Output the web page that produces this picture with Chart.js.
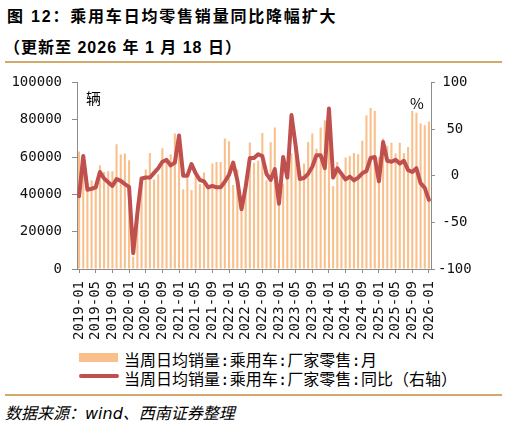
<!DOCTYPE html>
<html>
<head>
<meta charset="utf-8">
<script src="https://cdn.jsdelivr.net/npm/chart.js@4.4.1/dist/chart.umd.min.js"></script>
<style>
  html, body { margin: 0; padding: 0; background: #fff; }
  #wrap { position: relative; width: 508px; height: 424px; overflow: hidden; font-family: "Noto Sans CJK SC", sans-serif; color: #000; }
  .abs { position: absolute; white-space: nowrap; }
  #t1 { left: 7px; top: 3px; font-size: 16px; font-weight: bold; letter-spacing: 1.8px; font-family: "Liberation Sans", "Noto Sans CJK SC", sans-serif; }
  #t2 { left: 4px; top: 34px; font-size: 16px; font-weight: bold; letter-spacing: 1px; font-family: "Liberation Sans", "Noto Sans CJK SC", sans-serif; }
  .rule { position: absolute; left: 5px; width: 497px; height: 2px; background: #D2A96B; }
  #chart { position: absolute; left: 0; top: 64px; }
  .unit { font-size: 15px; }
  .leg { font-size: 16px; font-family: "DejaVu Sans Mono", "Noto Sans CJK SC", monospace; left: 124px; }
  #src { left: 5px; top: 400px; font-size: 16px; font-style: italic; font-family: "DejaVu Sans", "Noto Sans CJK SC", sans-serif; }
</style>
</head>
<body>
<div id="wrap">
  <div id="t1" class="abs">图 12：乘用车日均零售销量同比降幅扩大</div>
  <div id="t2" class="abs">（更新至 2026 年 1 月 18 日）</div>
  <div class="rule" style="top:61px"></div>
  <canvas id="chart" width="508" height="283"></canvas>
  <div class="abs unit" style="left:86px;top:87px">辆</div>
  <div class="abs unit" style="left:410px;top:92px">%</div>
  <div class="abs" style="left:79px;top:353px;width:39px;height:9px;background:#F9C08C"></div>
  <div class="abs leg" style="top:347px">当周日均销量:乘用车:厂家零售:月</div>
  <div class="abs" style="left:79px;top:374px;width:40px;height:4px;border-radius:2px;background:#C0504D"></div>
  <div class="abs leg" style="top:366px">当周日均销量:乘用车:厂家零售:同比（右轴）</div>
  <div class="rule" style="top:394px"></div>
  <div id="src" class="abs">数据来源：wind、西南证券整理</div>
</div>
<script>
// months 2019-01 .. 2026-01
var months = [
  '2019-01','2019-02','2019-03','2019-04','2019-05','2019-06','2019-07','2019-08','2019-09','2019-10','2019-11','2019-12',
  '2020-01','2020-02','2020-03','2020-04','2020-05','2020-06','2020-07','2020-08','2020-09','2020-10','2020-11','2020-12',
  '2021-01','2021-02','2021-03','2021-04','2021-05','2021-06','2021-07','2021-08','2021-09','2021-10','2021-11','2021-12',
  '2022-01','2022-02','2022-03','2022-04','2022-05','2022-06','2022-07','2022-08','2022-09','2022-10','2022-11','2022-12',
  '2023-01','2023-02','2023-03','2023-04','2023-05','2023-06','2023-07','2023-08','2023-09','2023-10','2023-11','2023-12',
  '2024-01','2024-02','2024-03','2024-04','2024-05','2024-06','2024-07','2024-08','2024-09','2024-10','2024-11','2024-12',
  '2025-01','2025-02','2025-03','2025-04','2025-05','2025-06','2025-07','2025-08','2025-09','2025-10','2025-11','2025-12',
  '2026-01'
];

// labels shown on the x axis
var shownTicks = ['2019-01','2019-05','2019-09','2020-01','2020-05','2020-09','2021-01','2021-05','2021-09',
  '2022-01','2022-05','2022-09','2023-01','2023-05','2023-09','2024-01','2024-05','2024-09',
  '2025-01','2025-05','2025-09','2026-01'];

// 当周日均销量 (辆), left axis
var sales = [
  63000, 57000, 44000, 47600, 46000, 55600, 52000, 52400, 52400, 66900, 61300, 61900,
  58300,  6600, 35300, 47000, 53300, 62200, 48000, 50800, 64700, 58500, 61500, 72600,
  72000, 42800, 49400, 42300, 49400, 45500, 51700, 44000, 56500, 57400, 57400, 70000,
  68500, 45000, 53300, 36000, 47000, 67800, 57000, 58000, 72900, 47600, 67900, 75800,
  40000, 45800, 56500, 62000, 65400, 49400, 56500, 68100, 72600, 64500, 75800, 79700,
  68000, 44400, 57400, 50300, 59800, 60500, 62200, 61500, 68700, 82400, 86300, 84700,
  60000, 70000, 66000, 67600, 61900, 67600, 62200, 65400, 84700, 83800, 78000, 77000,
  79000
];

// 同比 (%), right axis
var yoy = [
  -22,  21, -15, -14, -12.5,  4,  -3,  -7, -11, -3.5, -5.5, -9,
  -12, -83, -40,  -3,  -2,  -2,   3,   8,  15,  17,  11,  14,
   43,   0,   0, 12.5, 2.5, -4.6, -6, -12.5, -11, -12.5, -12.5, -6.4,
    1,  14,  -5, -36, -12,  19,  19,  23,  21,   2, -4.6,  7,
  -30,  20,  -2,  65,  32, -3.5, -2.5,  2, 9.6,  22,  22,   8,
   72,  -2,   8,   2,  -4,  -1,  -5,  -2, 2.5,   5,  19,  20,
   -6,  36,  16,  15,  17,  13,  16,   6,   4,   8,  -8, -13,
  -26
];

var barName = '当周日均销量:乘用车:厂家零售:月';
var lineName = '当周日均销量:乘用车:厂家零售:同比（右轴）';

Chart.defaults.font.family = '"DejaVu Sans Mono", monospace';
Chart.defaults.font.size = 14;
Chart.defaults.color = '#111';

var axisGrey = '#8c8c8c';

function plain(v) { return String(v); }

var ctx = document.getElementById('chart').getContext('2d');
new Chart(ctx, {
  type: 'bar',
  data: {
    labels: months,
    datasets: [
      {
        type: 'line',
        label: lineName,
        data: yoy,
        yAxisID: 'y1',
        borderColor: '#C0504D',
        borderWidth: 4,
        pointRadius: 0,
        tension: 0,
        borderJoinStyle: 'round',
        borderCapStyle: 'round',
        order: 0
      },
      {
        type: 'bar',
        label: barName,
        data: sales,
        yAxisID: 'y',
        backgroundColor: '#F9C08C',
        barPercentage: 0.5,
        categoryPercentage: 1,
        order: 1
      }
    ]
  },
  options: {
    responsive: false,
    animation: false,
    layout: { padding: { top: 18, left: 0, right: 0, bottom: 0 } },
    plugins: { legend: { display: false }, tooltip: { enabled: false } },
    scales: {
      x: {
        offset: true,
        grid: { drawOnChartArea: false, offset: false, tickLength: 4, color: axisGrey },
        border: { color: axisGrey },
        ticks: {
          autoSkip: false,
          maxRotation: 90,
          minRotation: 90,
          padding: 8,
          callback: function (v, i) {
            return shownTicks.indexOf(months[i]) >= 0 ? months[i] : null;
          }
        },
        afterFit: function (s) { s.height = 78; }
      },
      y: {
        position: 'left',
        min: 0,
        max: 100000,
        ticks: { stepSize: 20000, padding: 10, callback: plain },
        grid: { drawOnChartArea: false, tickLength: 5, color: axisGrey },
        border: { color: axisGrey },
        afterFit: function (s) { s.width = 77; }
      },
      y1: {
        position: 'right',
        min: -100,
        max: 100,
        ticks: { stepSize: 50, crossAlign: 'center', padding: 3, callback: plain },
        grid: { drawOnChartArea: false, tickLength: 4, color: axisGrey },
        border: { color: axisGrey },
        afterFit: function (s) { s.width = 77; }
      }
    }
  }
});
</script>
</body>
</html>
